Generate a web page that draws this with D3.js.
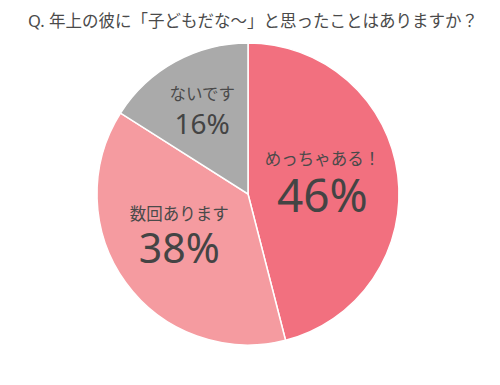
<html>
<head>
<meta charset="utf-8">
<title>pie</title>
<script src="https://cdn.jsdelivr.net/npm/d3@7/dist/d3.min.js"></script>
<style>
  body { margin: 0; background: #fff; }
  text { font-family: "Noto Sans", "Noto Sans CJK JP", sans-serif; }
</style>
</head>
<body>
<div id="chart"></div>
<script>
    var title = "Q. 年上の彼に「子どもだな〜」と思ったことはありますか？";
    var labels = ["めっちゃある！", "数回あります", "ないです"];
    var values = [46, 38, 16];

    var colors = ["#f2707f", "#f59ba0", "#aaaaaa"];
    var pctSize = [46, 41, 28];      // 数字のフォントサイズ
    var labelR = [75, 85, 95];       // ラベルの中心までの距離
    var labelDy = [-3, -8, 5];       // 微調整

    var width = 500, height = 385;
    var cx = 248, cy = 194, R = 151;

    var svg = d3.select("#chart").append("svg")
        .attr("width", width)
        .attr("height", height);

    svg.append("text")
        .attr("x", 253)
        .attr("y", 27)
        .attr("text-anchor", "middle")
        .attr("font-size", 16.5)
        .attr("fill", "#4a4a4a")
        .text(title);

    var pie = d3.pie().sort(null).value(function (d) { return d; });
    var arcs = pie(values);
    var arc = d3.arc().innerRadius(0).outerRadius(R);

    var g = svg.append("g").attr("transform", "translate(" + cx + "," + cy + ")");

    g.selectAll("path")
        .data(arcs)
        .enter()
        .append("path")
        .attr("d", arc)
        .attr("fill", function (d, i) { return colors[i]; })
        .attr("stroke", "#fff")
        .attr("stroke-width", 1.5);

    var lab = g.selectAll("g.lab")
        .data(arcs)
        .enter()
        .append("g")
        .attr("class", "lab")
        .attr("transform", function (d, i) {
            var a = (d.startAngle + d.endAngle) / 2;
            return "translate(" + (Math.sin(a) * labelR[i]) + "," + (-Math.cos(a) * labelR[i] + labelDy[i]) + ")";
        });

    lab.append("text")
        .attr("text-anchor", "middle")
        .attr("y", function (d, i) { return pctSize[i] * 0.66; })
        .attr("font-size", function (d, i) { return pctSize[i]; })
        .attr("fill", "#444")
        .text(function (d) { return d.data + "%"; });

    lab.append("text")
        .attr("text-anchor", "middle")
        .attr("y", function (d, i) { return pctSize[i] * 0.66 - pctSize[i] * 0.72 - 14; })
        .attr("font-size", 16.5)
        .attr("fill", "#4a4a4a")
        .text(function (d, i) { return labels[i]; });
</script>
</body>
</html>
